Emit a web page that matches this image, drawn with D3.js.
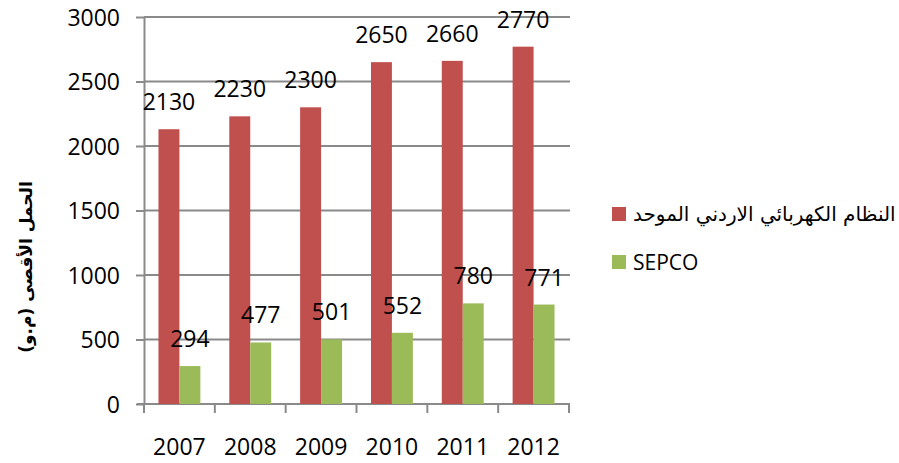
<!DOCTYPE html>
<html>
<head>
<meta charset="utf-8">
<script src="https://cdn.jsdelivr.net/npm/d3@7"></script>
<style>
  body { margin: 0; background: #fff; }
  svg { display: block; }
  .tickText { font-family: "Open Sans", sans-serif; font-size: 23px; fill: #000; }
</style>
</head>
<body>
<div id="chart"></div>
<script>
// data
var years = ["2007", "2008", "2009", "2010", "2011", "2012"];
var jordanGrid = [2130, 2230, 2300, 2650, 2660, 2770];
var sepco = [294, 477, 501, 552, 780, 771];
var yTicks = [0, 500, 1000, 1500, 2000, 2500, 3000];
var seriesNames = ["النظام الكهربائي الاردني الموحد", "SEPCO"];
var seriesColors = ["#c0504d", "#9bbb59"];
var yTitle = "الحمل الأقصى (م.و)";

var W = 899, H = 463;
var svg = d3.select("#chart").append("svg").attr("width", W).attr("height", H);

// scales
var x = d3.scaleBand().domain(years).range([144, 569]);
var inner = d3.scaleBand().domain([0, 1]).range([0, x.bandwidth()]).paddingInner(0).paddingOuter(0.69);
var y = d3.scaleLinear().domain([0, 3000]).range([404, 17]);

var axisColor = "#8a8a8a";

// gridlines
svg.append("g")
  .selectAll("line")
  .data(yTicks.filter(d => d > 0))
  .enter()
  .append("line")
  .attr("x1", 144).attr("x2", 570)
  .attr("y1", d => y(d)).attr("y2", d => y(d))
  .attr("stroke", axisColor).attr("stroke-width", 2);

// y axis
var yAxis = svg.append("g")
  .attr("transform", "translate(144,0)")
  .call(d3.axisLeft(y).tickValues(yTicks).tickFormat(d3.format("d")).tickSize(8).tickSizeOuter(0));
yAxis.select(".domain").attr("stroke", axisColor).attr("stroke-width", 2);
yAxis.selectAll(".tick line").attr("stroke", axisColor).attr("stroke-width", 2);
yAxis.selectAll(".tick text")
  .attr("class", "tickText")
  .attr("x", -24)
  .attr("dy", "0.36em")
  .attr("font-family", null).attr("font-size", null);

// x axis
var xAxis = svg.append("g")
  .attr("transform", "translate(0,404)")
  .call(d3.axisBottom(x).tickSize(0).tickSizeOuter(0));
xAxis.select(".domain").remove();
xAxis.append("line")
  .attr("x1", 137).attr("x2", 570)
  .attr("stroke", axisColor).attr("stroke-width", 2);
xAxis.selectAll(".tick text")
  .attr("class", "tickText")
  .attr("y", 51).attr("dy", 0)
  .attr("font-family", null).attr("font-size", null);
xAxis.selectAll(".bound")
  .data(years.map(d => x(d)).concat([x.range()[1]]))
  .enter()
  .append("line")
  .attr("x1", d => d).attr("x2", d => d)
  .attr("y1", 0).attr("y2", 9)
  .attr("stroke", axisColor).attr("stroke-width", 2);

// bars
var allSeries = [jordanGrid, sepco];
allSeries.forEach(function(values, si) {
  var g = svg.append("g");
  g.selectAll("rect")
    .data(values)
    .enter()
    .append("rect")
    .attr("x", (d, i) => x(years[i]) + inner(si))
    .attr("width", inner.bandwidth())
    .attr("y", d => y(d))
    .attr("height", d => y(0) - y(d))
    .attr("fill", seriesColors[si]);
});

// data labels on top
allSeries.forEach(function(values, si) {
  svg.append("g")
    .selectAll("text")
    .data(values)
    .enter()
    .append("text")
    .attr("class", "tickText")
    .attr("text-anchor", "middle")
    .attr("x", (d, i) => x(years[i]) + inner(si) + inner.bandwidth() / 2)
    .attr("y", d => y(d) - 19)
    .text(d => d);
});

// y title
svg.append("text")
  .attr("transform", "translate(32,267) rotate(-90)")
  .attr("direction", "rtl")
  .attr("text-anchor", "middle")
  .attr("font-family", "DejaVu Sans")
  .attr("font-weight", "bold")
  .attr("font-size", 17)
  .text(yTitle);

// legend
var legend = svg.append("g");
seriesNames.forEach(function(name, i) {
  var ly = 214 + i * 48;
  legend.append("rect")
    .attr("x", 612).attr("y", ly - 7)
    .attr("width", 14).attr("height", 14)
    .attr("fill", seriesColors[i]);
  legend.append("text")
    .attr("x", 633).attr("y", ly)
    .attr("dy", "0.36em")
    .attr("font-family", i === 0 ? "DejaVu Sans" : "Open Sans")
    .attr("font-size", i === 0 ? 20 : 21)
    .text(name);
});
</script>
</body>
</html>
